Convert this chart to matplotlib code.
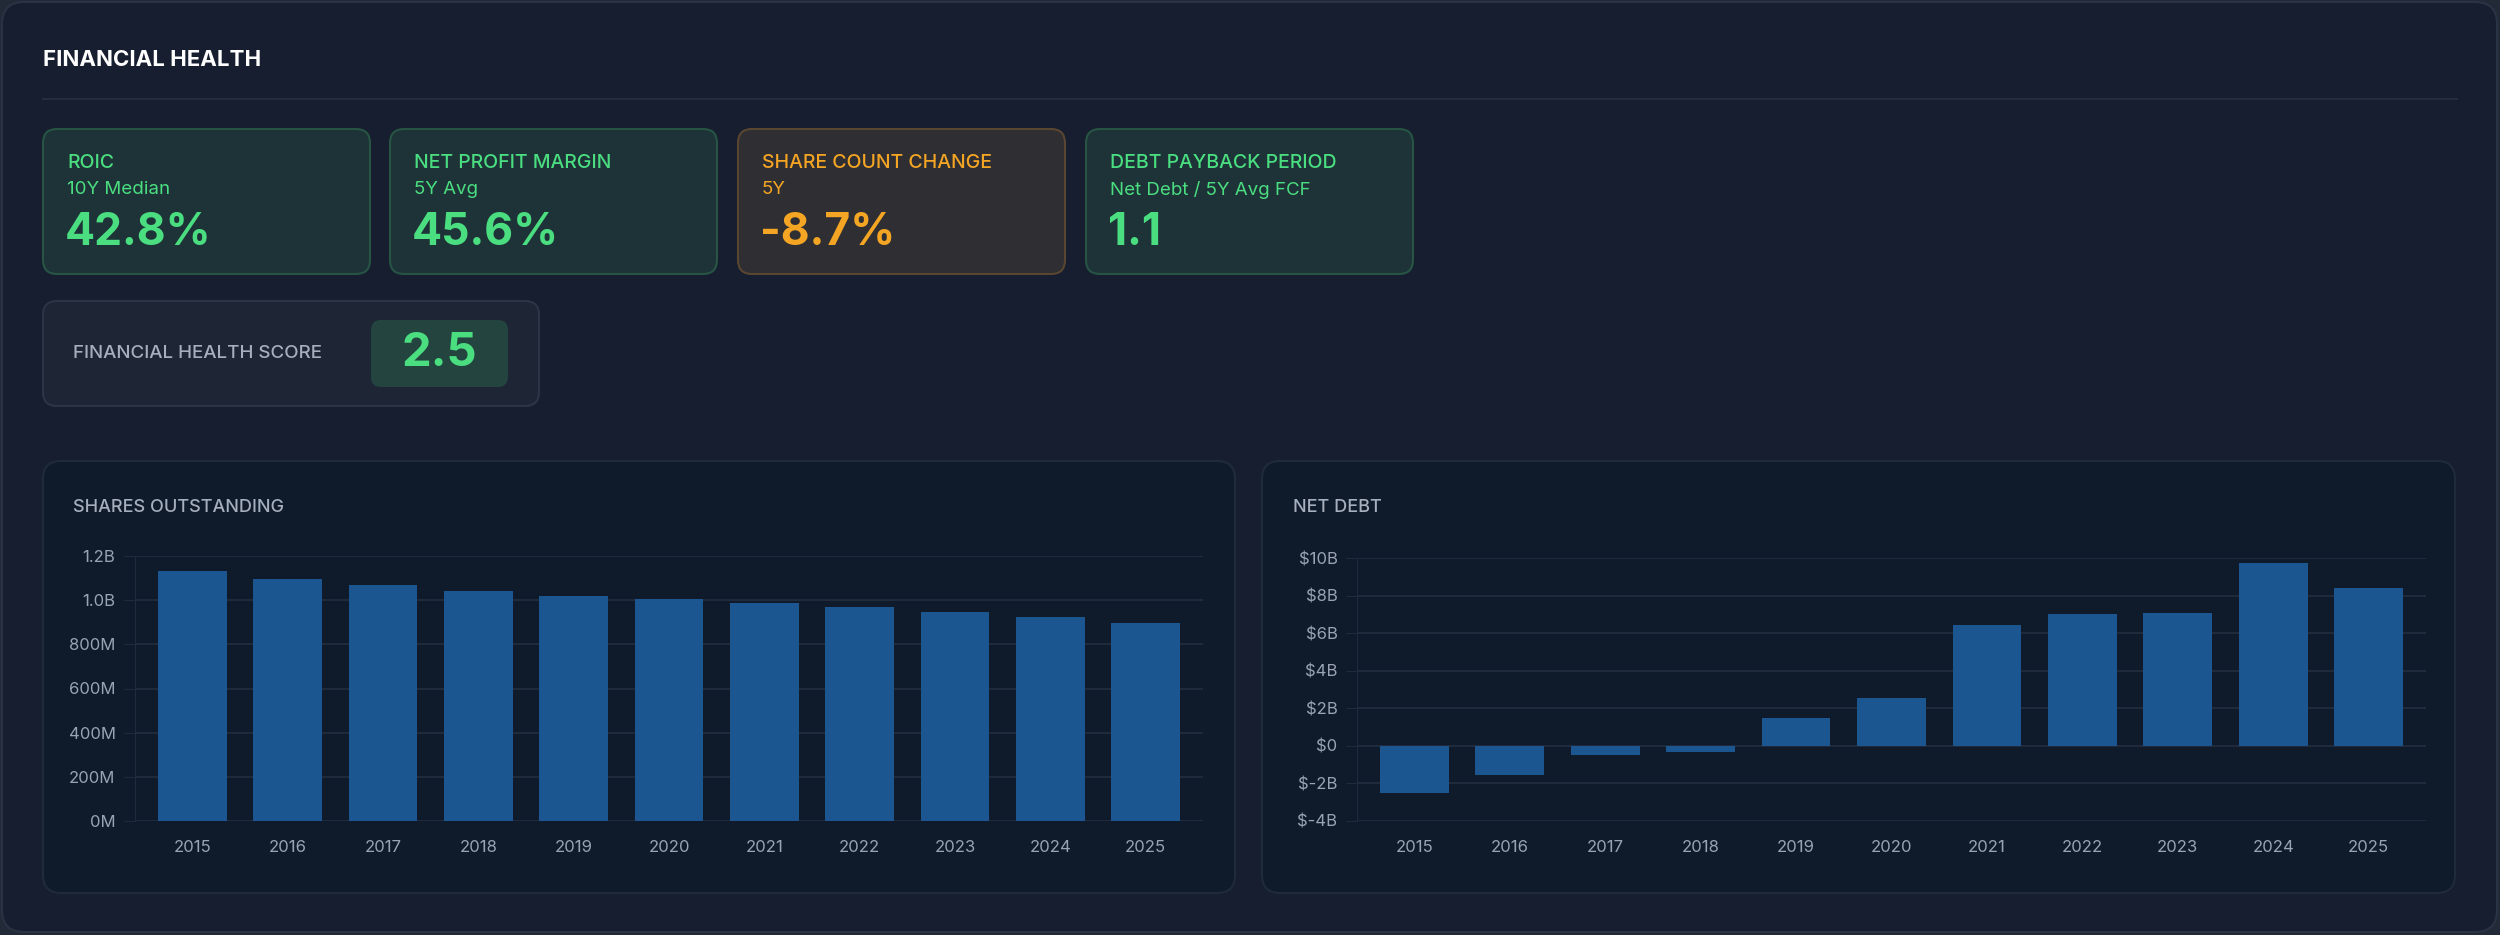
import numpy as np
import matplotlib.pyplot as plt
from matplotlib.patches import FancyBboxPatch
from matplotlib.ticker import FuncFormatter

plt.rcParams['font.family'] = ['Inter', 'DejaVu Sans']

# Data
years = [str(y) for y in range(2015, 2026)]
shares = [1134, 1097, 1069, 1040, 1018, 1004, 989, 967, 946, 924, 895]  # millions
net_debt = [-2.5, -1.55, -0.5, -0.35, 1.5, 2.55, 6.45, 7.0, 7.05, 9.75, 8.4]  # billions

metric_titles = ["ROIC", "NET PROFIT MARGIN", "SHARE COUNT CHANGE", "DEBT PAYBACK PERIOD"]
metric_subs = ["10Y Median", "5Y Avg", "5Y", "Net Debt / 5Y Avg FCF"]
metric_values = ["42.8%", "45.6%", "-8.7%", "1.1"]
metric_kind = ["good", "good", "warn", "good"]
score = "2.5"

W, H = 2500, 935
GREEN, ORANGE = "#4ade80", "#f5a524"
BAR = "#1c5690"
GRID = "#1f2b3c"
TICK = "#9aa3b2"

fig = plt.figure(figsize=(W / 100, H / 100), dpi=100, facecolor="#222a38")
bg = fig.add_axes([0, 0, 1, 1])
bg.set_xlim(0, W)
bg.set_ylim(H, 0)
bg.axis("off")


def box(x0, y0, x1, y1, fc, ec, r=14, lw=1.5):
    bg.add_patch(FancyBboxPatch((x0, y0), x1 - x0, y1 - y0,
                                boxstyle=f"round,pad=0,rounding_size={r}",
                                fc=fc, ec=ec, lw=lw))


box(2, 2, 2497, 932, "#161e30", "#2a3344", r=22)
bg.text(43, 60, "FINANCIAL HEALTH", color="white", fontsize=16, fontweight="bold", va="center")
bg.plot([43, 2457], [99, 99], color="#232d3e", lw=1.5)

card_x = [43, 390, 738, 1086]
for x, t, s, v, k in zip(card_x, metric_titles, metric_subs, metric_values, metric_kind):
    if k == "good":
        fc, ec, col = "#1e3338", "#275443", GREEN
    else:
        fc, ec, col = "#2e2e33", "#5a4630", ORANGE
    box(x, 129, x + 327, 274, fc, ec)
    bg.text(x + 24, 163, t, color=col, fontsize=14, fontweight="medium", va="center")
    bg.text(x + 24, 190, s, color=col, fontsize=13.5, va="center")
    bg.text(x + 22, 233, v, color=col, fontsize=32, fontweight="bold", va="center")

box(43, 301, 539, 406, "#1e2636", "#2c3545")
bg.text(73, 354, "FINANCIAL HEALTH SCORE", color="#a7afbd", fontsize=13.5, fontweight="medium", va="center")
box(371, 320, 508, 387, "#23443f", "none", r=10)
bg.text(439.5, 354, score, color=GREEN, fontsize=34, fontweight="bold", ha="center", va="center")

box(43, 461, 1235, 893, "#0f1a2a", "#1f2a3b", r=18)
box(1262, 461, 2455, 893, "#0f1a2a", "#1f2a3b", r=18)
bg.text(73, 508, "SHARES OUTSTANDING", color="#a7afbd", fontsize=13, fontweight="medium", va="center")
bg.text(1293, 508, "NET DEBT", color="#a7afbd", fontsize=13, fontweight="medium", va="center")


def chart_axes(x0, y0, x1, y1):
    ax = fig.add_axes([x0 / W, 1 - y1 / H, (x1 - x0) / W, (y1 - y0) / H])
    ax.set_facecolor("none")
    for sp in ax.spines.values():
        sp.set_visible(False)
    ax.spines["left"].set_visible(True)
    ax.spines["left"].set_color(GRID)
    ax.grid(axis="y", color=GRID, lw=1.5)
    ax.set_axisbelow(True)
    ax.tick_params(axis="both", colors=TICK, labelsize=12, length=0, pad=14)
    ax.tick_params(axis="y", length=8, color=GRID, pad=6)
    return ax


ax1 = chart_axes(135, 556, 1203, 821)
ax1.bar(years, shares, width=0.72, color=BAR)
ax1.set_ylim(0, 1200)
ax1.set_yticks(np.arange(0, 1201, 200))
ax1.yaxis.set_major_formatter(FuncFormatter(lambda v, _: f"{v/1000:.1f}B" if v >= 1000 else f"{v:.0f}M"))
ax1.set_xlim(-0.6, 10.6)

ax2 = chart_axes(1357, 558, 2426, 821)
ax2.bar(years, net_debt, width=0.72, color=BAR)
ax2.set_ylim(-4, 10)
ax2.set_yticks(np.arange(-4, 11, 2))
ax2.yaxis.set_major_formatter(FuncFormatter(lambda v, _: f"${v:.0f}B" if v != 0 else "$0"))
ax2.set_xlim(-0.6, 10.6)

fig.savefig("out.png", dpi=100, facecolor=fig.get_facecolor())
